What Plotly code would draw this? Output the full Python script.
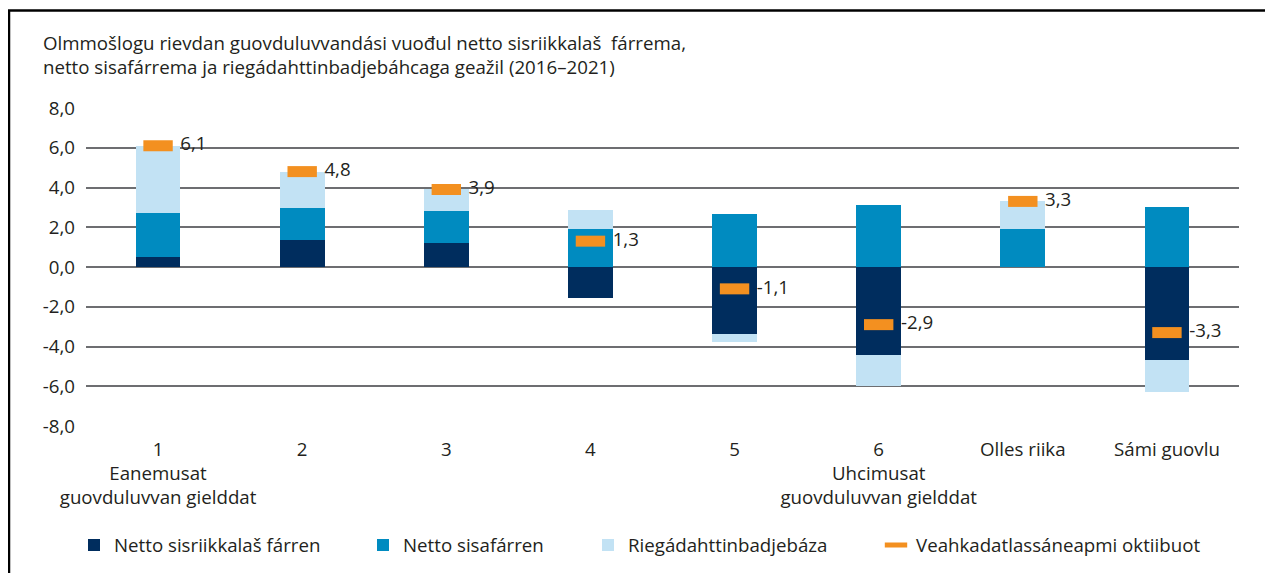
import plotly.graph_objects as go

# ---- data ----
categories = ["1", "2", "3", "4", "5", "6", "Olles riika", "Sámi guovlu"]
tick_labels = ["1<br>Eanemusat<br>guovduluvvan gielddat", "2", "3", "4", "5",
               "6<br>Uhcimusat<br>guovduluvvan gielddat", "Olles riika", "Sámi guovlu"]
netto_sisriikkalas = [0.5, 1.35, 1.2, -1.55, -3.35, -4.45, 0.0, -4.7]
netto_sisafarren = [2.2, 1.6, 1.6, 1.9, 2.65, 3.1, 1.9, 3.0]
riegadahttinbadjebaza = [3.4, 1.85, 1.1, 0.95, -0.4, -1.55, 1.4, -1.6]
oktiibuot = [6.1, 4.8, 3.9, 1.3, -1.1, -2.9, 3.3, -3.3]
y_ticks = [-8, -6, -4, -2, 0, 2, 4, 6, 8]
y_tick_labels = ["-8,0", "-6,0", "-4,0", "-2,0", "0,0", "2,0", "4,0", "6,0", "8,0"]

series_names = ["Netto sisriikkalaš fárren", "Netto sisafárren",
                "Riegádahttinbadjebáza", "Veahkadatlassáneapmi oktiibuot"]
colors = ["#002d5e", "#008bc0", "#c2e2f4", "#f39020"]

FONT = "Open Sans"
FS = 18.7
TXT = "#231f20"
x = list(range(len(categories)))

FIG_W, FIG_H = 1265, 568
px0, px1 = 78, 1231          # plot area left/right (figure px)
py0, py1 = 100, 420          # plot area top/bottom (figure px)
W, H = px1 - px0, py1 - py0


def lx(p):
    return (p - px0) / W


def ly(p):
    return (py1 - p) / H


fig = go.Figure()
for vals, name, col, lg in zip(
        [netto_sisriikkalas, netto_sisafarren, riegadahttinbadjebaza],
        series_names[:3], colors[:3], ["legend", "legend2", "legend3"]):
    fig.add_trace(go.Bar(x=x, y=vals, name=name, marker_color=col,
                         marker_line_width=0, width=0.31, legend=lg,
                         showlegend=True))

# orange markers
fig.add_trace(go.Scatter(
    x=x, y=oktiibuot, name=series_names[3], mode="markers",
    marker=dict(symbol="line-ew", size=21, color=colors[3],
                line=dict(color=colors[3], width=11)),
    legend="legend4", showlegend=True, cliponaxis=False))

# value labels
labels = [f"{v:.1f}".replace(".", ",") for v in oktiibuot]
fig.add_trace(go.Scatter(
    x=x, y=oktiibuot, mode="markers+text", showlegend=False,
    marker=dict(size=34, opacity=0), hoverinfo="skip",
    text=labels, textposition="middle right",
    textfont=dict(family=FONT, size=FS, color=TXT), cliponaxis=False))

leg_common = dict(orientation="h", yanchor="middle", y=ly(540), xanchor="left",
                  font=dict(family=FONT, size=FS, color=TXT),
                  bgcolor="rgba(0,0,0,0)", itemwidth=30, tracegroupgap=0)

fig.update_layout(
    width=FIG_W, height=FIG_H,
    margin=dict(l=px0, r=FIG_W - px1, t=py0, b=FIG_H - py1),
    plot_bgcolor="white", paper_bgcolor="white",
    barmode="relative", bargap=0,
    font=dict(family=FONT, size=FS, color=TXT),
    title=dict(text="Olmmošlogu rievdan guovduluvvandási vuođul netto sisriikkalaš  fárrema,<br>"
                    "netto sisafárrema ja riegádahttinbadjebáhcaga geažil (2016–2021)",
               x=35 / FIG_W, xanchor="left", xref="container",
               y=1 - 42 / FIG_H, yanchor="top", yref="container",
               font=dict(family=FONT, size=FS, color=TXT)),
    xaxis=dict(range=[-0.5, 7.5], tickvals=x, ticktext=tick_labels,
               showgrid=False, zeroline=False, showline=False, ticks="",
               ticklabelstandoff=10,
               tickfont=dict(family=FONT, size=FS, color=TXT)),
    yaxis=dict(range=[-8, 8], tickvals=y_ticks, ticktext=y_tick_labels,
               showgrid=True, gridcolor="#6d6e71", gridwidth=1.5,
               zeroline=True, zerolinecolor="#6d6e71", zerolinewidth=1.5,
               showline=False, ticks="", ticklabelstandoff=10,
               tickfont=dict(family=FONT, size=FS, color=TXT)),
    legend=dict(leg_common, x=lx(66)),
    legend2=dict(leg_common, x=lx(355)),
    legend3=dict(leg_common, x=lx(580)),
    legend4=dict(leg_common, x=lx(868)),
    shapes=[
        dict(type="line", xref="paper", yref="paper", x0=lx(0), x1=lx(FIG_W),
             y0=ly(2), y1=ly(2), line=dict(color="black", width=2.5)),
        dict(type="line", xref="paper", yref="paper", x0=lx(1), x1=lx(1),
             y0=ly(2), y1=ly(FIG_H), line=dict(color="black", width=2.5)),
    ],
)

fig.write_html("out.html")
